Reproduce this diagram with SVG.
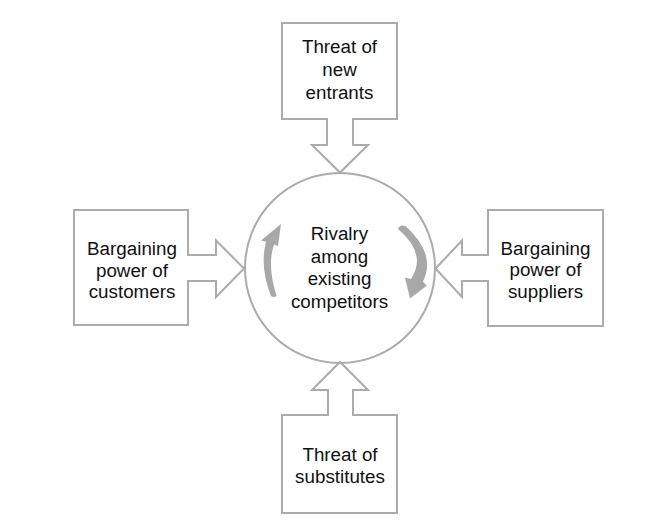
<svg xmlns="http://www.w3.org/2000/svg" width="650" height="531" viewBox="0 0 650 531">
<style>
.shape{fill:#fff;stroke:#ababab;stroke-width:2;stroke-linejoin:miter}
.t{font-family:"Liberation Sans",Arial,Helvetica,sans-serif;font-size:18.8px;fill:#111;text-anchor:middle}
.rot{fill:#a8a8a8;stroke:none}
</style>
<rect width="650" height="531" fill="#fff"/>
<g id="connectors"></g>
<g id="center">
<circle class="shape" cx="340" cy="268" r="95"/>
<path class="rot" d="M281 224 L261 240.5 L266 241.8 Q259.5 267 271 296 Q274 298 276.5 296 Q266.8 265.5 274 244.5 L278 246 Z"/>
<path class="rot" d="M398 229 Q400 223.5 406 226.5 Q436.5 254.5 423 281.5 L426.7 285.7 L410 298.5 L405 277.5 L411 279 Q427.5 254 398 229 Z"/>
<text class="t"><tspan x="339.5" y="240">Rivalry</tspan><tspan x="339.5" y="262.5">among</tspan><tspan x="339.5" y="285">existing</tspan><tspan x="339.5" y="307.5">competitors</tspan></text>
</g>
<g id="new-entrants">
<path class="shape" d="M282 23 H397 V119 H353 V145 H368 L340 172.5 L312 145 H327 V119 H282 Z"/>
<text class="t"><tspan x="339.5" y="53">Threat of</tspan><tspan x="339.5" y="76">new</tspan><tspan x="339.5" y="99">entrants</tspan></text>
</g>
<g id="customers">
<path class="shape" d="M74 210 H188 V255 H216 V240.5 L244 268.5 L216 297 V281 H188 V325 H74 Z"/>
<text class="t"><tspan x="132" y="255">Bargaining</tspan><tspan x="132" y="276.5">power of</tspan><tspan x="132" y="298">customers</tspan></text>
</g>
<g id="suppliers">
<path class="shape" d="M603 210 H488 V255 H462 V240.5 L435.5 268.5 L462 297 V281 H488 V326 H603 Z"/>
<text class="t"><tspan x="545.5" y="254.5">Bargaining</tspan><tspan x="545.5" y="276">power of</tspan><tspan x="545.5" y="297.5">suppliers</tspan></text>
</g>
<g id="substitutes">
<path class="shape" d="M282 513 H397 V415 H353 V390 H368 L340 362 L312 390 H328 V415 H282 Z"/>
<text class="t"><tspan x="340" y="460.5">Threat of</tspan><tspan x="340" y="483">substitutes</tspan></text>
</g>
</svg>
